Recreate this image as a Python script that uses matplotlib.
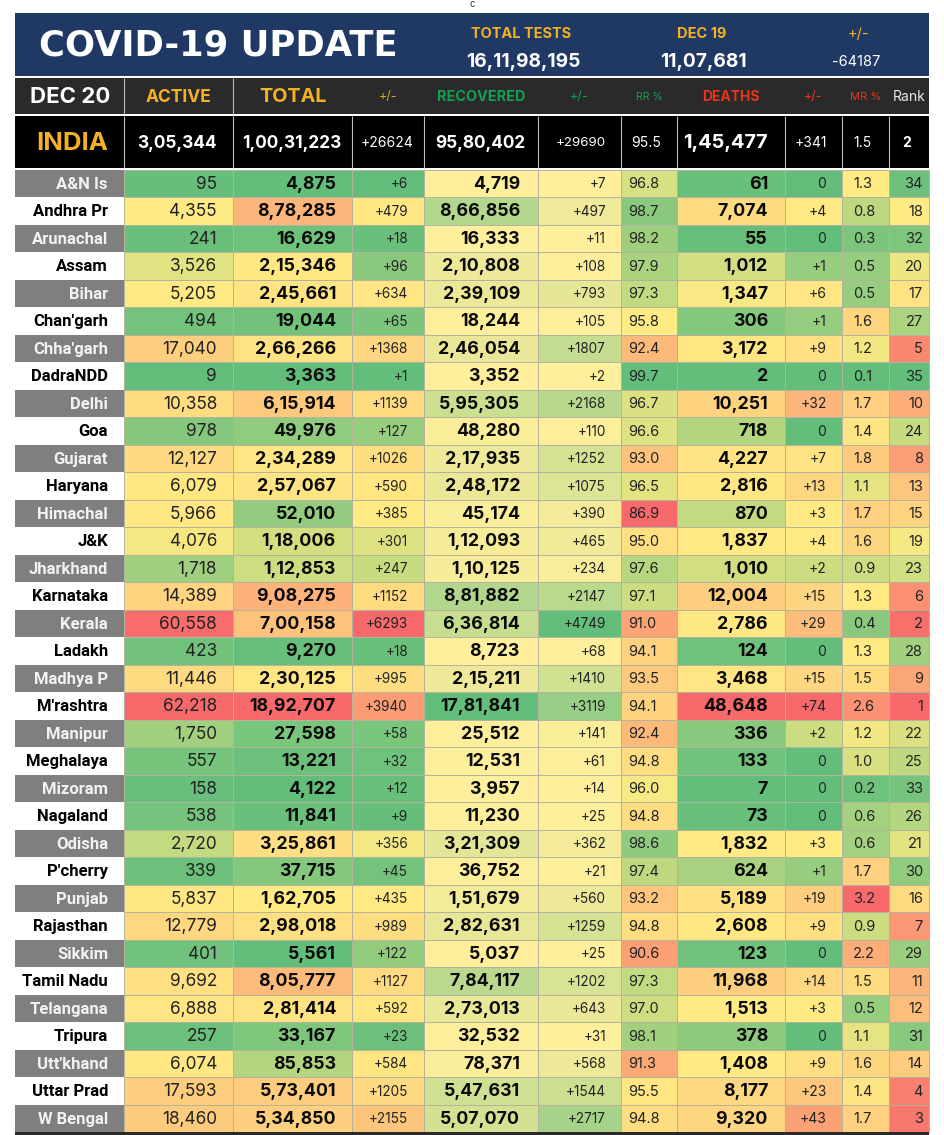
import matplotlib
matplotlib.use("Agg")
import matplotlib.pyplot as plt
from matplotlib.patches import Rectangle
from matplotlib.colors import LinearSegmentedColormap, TwoSlopeNorm, Normalize
import numpy as np

states = ["A&N Is","Andhra Pr","Arunachal","Assam","Bihar","Chan'garh","Chha'garh","DadraNDD","Delhi","Goa","Gujarat","Haryana","Himachal","J&K","Jharkhand","Karnataka","Kerala","Ladakh","Madhya P","M'rashtra","Manipur","Meghalaya","Mizoram","Nagaland","Odisha","P'cherry","Punjab","Rajasthan","Sikkim","Tamil Nadu","Telangana","Tripura","Utt'khand","Uttar Prad","W Bengal"]
active = [95,4355,241,3526,5205,494,17040,9,10358,978,12127,6079,5966,4076,1718,14389,60558,423,11446,62218,1750,557,158,538,2720,339,5837,12779,401,9692,6888,257,6074,17593,18460]
total = [4875,878285,16629,215346,245661,19044,266266,3363,615914,49976,234289,257067,52010,118006,112853,908275,700158,9270,230125,1892707,27598,13221,4122,11841,325861,37715,162705,298018,5561,805777,281414,33167,85853,573401,534850]
total_delta = [6,479,18,96,634,65,1368,1,1139,127,1026,590,385,301,247,1152,6293,18,995,3940,58,32,12,9,356,45,435,989,122,1127,592,23,584,1205,2155]
recovered = [4719,866856,16333,210808,239109,18244,246054,3352,595305,48280,217935,248172,45174,112093,110125,881882,636814,8723,215211,1781841,25512,12531,3957,11230,321309,36752,151679,282631,5037,784117,273013,32532,78371,547631,507070]
rec_delta = [7,497,11,108,793,105,1807,2,2168,110,1252,1075,390,465,234,2147,4749,68,1410,3119,141,61,14,25,362,21,560,1259,25,1202,643,31,568,1544,2717]
rr = [96.8,98.7,98.2,97.9,97.3,95.8,92.4,99.7,96.7,96.6,93.0,96.5,86.9,95.0,97.6,97.1,91.0,94.1,93.5,94.1,92.4,94.8,96.0,94.8,98.6,97.4,93.2,94.8,90.6,97.3,97.0,98.1,91.3,95.5,94.8]
deaths = [61,7074,55,1012,1347,306,3172,2,10251,718,4227,2816,870,1837,1010,12004,2786,124,3468,48648,336,133,7,73,1832,624,5189,2608,123,11968,1513,378,1408,8177,9320]
death_delta = [0,4,0,1,6,1,9,0,32,0,7,13,3,4,2,15,29,0,15,74,2,0,0,0,3,1,19,9,0,14,3,0,9,23,43]
mr = [1.3,0.8,0.3,0.5,0.5,1.6,1.2,0.1,1.7,1.4,1.8,1.1,1.7,1.6,0.9,1.3,0.4,1.3,1.5,2.6,1.2,1.0,0.2,0.6,0.6,1.7,3.2,0.9,2.2,1.5,0.5,1.1,1.6,1.4,1.7]
rank = [34,18,32,20,17,27,5,35,10,24,8,13,15,19,23,6,2,28,9,1,22,25,33,26,21,30,16,7,29,11,12,31,14,4,3]

india_values = ["3,05,344","1,00,31,223","+26624","95,80,402","+29690","95.5","1,45,477","+341","1.5","2"]
header_labels = ["ACTIVE","TOTAL","+/-","RECOVERED","+/-","RR %","DEATHS","+/-","MR %","Rank"]
banner_labels = ["TOTAL TESTS","DEC 19","+/-"]
banner_values = ["16,11,98,195","11,07,681","-64187"]

def indian(n):
    s = str(n)
    if len(s) <= 3:
        return s
    head, tail = s[:-3], s[-3:]
    parts = []
    while len(head) > 2:
        parts.insert(0, head[-2:])
        head = head[:-2]
    if head:
        parts.insert(0, head)
    return ",".join(parts) + "," + tail

def signed(n):
    return "+%d" % n if n else "0"

GYR = LinearSegmentedColormap.from_list("gyr", ["#63BE7B", "#FFEB84", "#F8696B"])
RYG = GYR.reversed()
YG = LinearSegmentedColormap.from_list("yg", ["#FFEF9C", "#63BE7B"])

def three(vals, cmap=GYR):
    v = np.asarray(vals, float)
    norm = TwoSlopeNorm(vmin=v.min(), vcenter=np.median(v), vmax=v.max())
    return [cmap(norm(x)) for x in v]

def two(vals):
    v = np.asarray(vals, float)
    norm = Normalize(v.min(), v.max())
    return [YG(norm(x)) for x in v]

edges = [15, 124, 233, 352, 423.5, 538, 621, 677, 784.5, 842, 889, 929]
top = 169.5
pitch = 27.5

SANS = ["Inter", "DejaVu Sans"]
BOLD = ["DejaVu Sans"]
NARROW = ["Liberation Sans Narrow", "Roboto", "DejaVu Sans"]

columns = [
    (active, three(active), [indian(x) for x in active], "right", 217, "regular", 12.4),
    (total, three(total), [indian(x) for x in total], "right", 336, "bold", 12.8),
    (total_delta, three(total_delta), [signed(x) for x in total_delta], "right", 408, "regular", 9.8),
    (recovered, two(recovered), [indian(x) for x in recovered], "right", 520, "bold", 12.8),
    (rec_delta, two(rec_delta), [signed(x) for x in rec_delta], "right", 606, "regular", 9.8),
    (rr, three(rr, RYG), ["%.1f" % x for x in rr], "left", 628, "regular", 10.5),
    (deaths, three(deaths), [indian(x) for x in deaths], "right", 768, "bold", 12.8),
    (death_delta, three(death_delta), [signed(x) for x in death_delta], "right", 826.5, "regular", 10),
    (mr, three(mr), ["%.1f" % x for x in mr], "left", 853, "regular", 10.5),
    (rank, three(rank, RYG), [str(x) for x in rank], "right", 923, "regular", 10.5),
]

fig = plt.figure(figsize=(9.45, 11.35), dpi=100, facecolor="white")
ax = fig.add_axes([0, 0, 1, 1])
ax.set_xlim(0, 945)
ax.set_ylim(1135, 0)
ax.axis("off")

def rect(x0, y0, x1, y1, fc, ec="none", lw=0):
    ax.add_patch(Rectangle((x0, y0), x1 - x0, y1 - y0, facecolor=fc, edgecolor=ec, linewidth=lw))

ax.text(472, 4, "c", ha="center", va="center", fontsize=7, color="#333333", family=SANS)

# banner
NAVY = "#1F3864"
GOLD = "#F4B223"
rect(15, 13, 929, 76, NAVY)
ax.text(39, 46, "COVID-19 UPDATE", ha="left", va="center", color="white", fontsize=25.5, fontweight="bold", family=BOLD)
banner_x = [521, 702, 858]
value_x = [523.5, 703.5, 856.5]
value_w = ["bold", "bold", "regular"]
value_s = [13.8, 13.8, 10.5]
for x, vx, lab, val, w, s in zip(banner_x, value_x, banner_labels, banner_values, value_w, value_s):
    ax.text(x, 33.5, lab, ha="center", va="center", color=GOLD, fontsize=10.5, fontweight="bold" if lab != "+/-" else "regular", family=SANS)
    ax.text(vx, 62, val, ha="center", va="center", color="white", fontsize=s, fontweight=w, family=SANS)

# header row
rect(15, 78, 929, 114, "#2A2A2A")
ax.text(70, 97, "DEC 20", ha="center", va="center", color="white", fontsize=16, fontweight="bold", family=SANS)
hcolors = [GOLD, GOLD, "#D9A520", "#12A150", "#12A150", "#12A150", "#E8351C", "#E8351C", "#E8351C", "#E8E8E8"]
hsizes = [12.5, 14.2, 9, 10.4, 9, 7.6, 10, 9, 8, 10]
hweight = ["bold", "bold", "regular", "bold", "regular", "regular", "bold", "regular", "regular", "regular"]
for i, lab in enumerate(header_labels):
    cx = (edges[i + 1] + edges[i + 2]) / 2
    ax.text(cx, 97, lab, ha="center", va="center", color=hcolors[i], fontsize=hsizes[i], fontweight=hweight[i], family=SANS)

# India row
rect(15, 116, 929, 168, "black")
ax.text(72, 143, "INDIA", ha="center", va="center", color=GOLD, fontsize=18.5, fontweight="bold", family=SANS)
ind_w = ["bold", "bold", "regular", "bold", "regular", "regular", "bold", "regular", "regular", "bold"]
ind_s = [12.4, 12.4, 10, 12.4, 9.6, 10, 14.4, 10, 10, 10]
ind_x = [217, 341, 413, 526, 606, 631, 768, 827, 853, 911]
for col, val, w, s, xx in zip(columns, india_values, ind_w, ind_s, ind_x):
    ax.text(xx, 143, val, ha=col[3], va="center", color="white", fontsize=s, fontweight=w, family=SANS)

for x in edges[1:-1]:
    ax.plot([x, x], [116, 168], color="#BBBBBB", lw=0.8, solid_capstyle="butt")
for x in edges[1:3]:
    ax.plot([x, x], [78, 114], color="#BBBBBB", lw=0.8, solid_capstyle="butt")

# state rows
for r, name in enumerate(states):
    y0 = top + r * pitch
    y1 = y0 + pitch
    cy = (y0 + y1) / 2 + 1
    gray = r % 2 == 0
    rect(edges[0], y0, edges[1], y1, "#7F7F7F" if gray else "white")
    ax.text(108, cy, name, ha="right", va="center", fontsize=12, fontweight="bold",
            color="#F2F2F2" if gray else "black", family=NARROW)
    for c, (vals, cols, txt, ha, tx, w, fs) in enumerate(columns):
        rect(edges[c + 1], y0, edges[c + 2], y1, cols[r], ec="#B4B49C", lw=0.7)
        ax.text(tx, cy, txt[r], ha=ha, va="center", fontsize=fs, fontweight=w, color="#0A0A0A" if w == "bold" else "#222222", family=SANS)

rect(15, 1132, 929, 1135, "#2A2A2A")
fig.savefig("out.png", dpi=100, facecolor="white")
